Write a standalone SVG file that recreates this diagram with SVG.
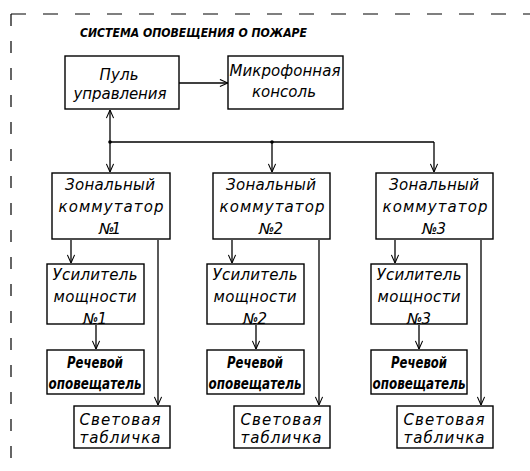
<svg xmlns="http://www.w3.org/2000/svg" width="530" height="471" viewBox="0 0 530 471">
<style>
.b{fill:#fff;stroke:#000;stroke-width:1.4}
.t{font-family:"DejaVu Sans","Liberation Sans",sans-serif;font-style:italic;font-size:15px;fill:#000;text-anchor:middle}
.r{font-family:"DejaVu Sans","Liberation Sans",sans-serif;font-style:italic;font-weight:bold;font-size:15px;fill:#000;text-anchor:middle}
.c{fill:none;stroke:#000;stroke-width:1.3}
.d{fill:none;stroke:#000;stroke-width:1.2}
</style>
<defs>
<marker id="a" viewBox="0 0 10 10" refX="10" refY="5" markerWidth="9" markerHeight="9" markerUnits="userSpaceOnUse" orient="auto">
<path d="M1,1 L10,5 L1,9" fill="none" stroke="#000" stroke-width="1.2"/>
</marker>
</defs>
<rect width="530" height="471" fill="#fff"/>
<g id="frame">
<line class="d" x1="11" y1="14" x2="530" y2="14" stroke-dasharray="15 17"/>
<line class="d" x1="11" y1="14" x2="11" y2="471" stroke-dasharray="12 15"/>
</g>
<g id="title">
<text x="80" y="37" font-family="DejaVu Sans,Liberation Sans,sans-serif" font-style="italic" font-weight="bold" font-size="12" textLength="227" lengthAdjust="spacingAndGlyphs">СИСТЕМА ОПОВЕЩЕНИЯ О ПОЖАРЕ</text>
</g>
<g id="connectors">
<line class="c" x1="179" y1="83" x2="228" y2="83" marker-end="url(#a)"/>
<line class="c" x1="110" y1="142" x2="110" y2="110" marker-end="url(#a)"/>
<line class="c" x1="110" y1="142" x2="434" y2="142"/>
<circle cx="110" cy="142" r="1.8"/>
<circle cx="272" cy="142" r="1.8"/>
<line class="c" x1="110" y1="142" x2="110" y2="172" marker-end="url(#a)"/>
<line class="c" x1="272" y1="142" x2="272" y2="172" marker-end="url(#a)"/>
<line class="c" x1="434" y1="142" x2="434" y2="172" marker-end="url(#a)"/>
<line class="c" x1="71" y1="240" x2="71" y2="263" marker-end="url(#a)"/>
<line class="c" x1="232" y1="240" x2="232" y2="263" marker-end="url(#a)"/>
<line class="c" x1="395" y1="240" x2="395" y2="263" marker-end="url(#a)"/>
<line class="c" x1="158" y1="240" x2="158" y2="405" marker-end="url(#a)"/>
<line class="c" x1="319" y1="240" x2="319" y2="405" marker-end="url(#a)"/>
<line class="c" x1="481" y1="240" x2="481" y2="405" marker-end="url(#a)"/>
<line class="c" x1="96" y1="325" x2="96" y2="349" marker-end="url(#a)"/>
<line class="c" x1="256" y1="325" x2="256" y2="349" marker-end="url(#a)"/>
<line class="c" x1="419" y1="325" x2="419" y2="349" marker-end="url(#a)"/>
</g>
<g id="pult">
<rect class="b" x="65" y="56" width="114" height="53"/>
<text class="t" x="119" y="80" textLength="39">Пуль</text>
<text class="t" x="120" y="99" textLength="93">управления</text>
</g>
<g id="mikrofon">
<rect class="b" x="228" y="56" width="115" height="53"/>
<text class="t" x="285" y="76" textLength="111">Микрофонная</text>
<text class="t" x="284" y="97" textLength="64">консоль</text>
</g>
<g id="zonal1">
<rect class="b" x="52" y="173" width="118" height="66"/>
<text class="t" x="110" y="190" textLength="90">Зональный</text>
<text class="t" x="111" y="212" textLength="105">коммутатор</text>
<text class="t" x="110" y="234" textLength="22">№1</text>
</g>
<g id="zonal2">
<rect class="b" x="213" y="173" width="117" height="66"/>
<text class="t" x="271" y="190" textLength="90">Зональный</text>
<text class="t" x="272" y="212" textLength="105">коммутатор</text>
<text class="t" x="271" y="234" textLength="24">№2</text>
</g>
<g id="zonal3">
<rect class="b" x="376" y="173" width="117" height="66"/>
<text class="t" x="434" y="190" textLength="90">Зональный</text>
<text class="t" x="435" y="212" textLength="105">коммутатор</text>
<text class="t" x="434" y="234" textLength="24">№3</text>
</g>
<g id="amp1">
<rect class="b" x="47" y="264" width="97" height="60"/>
<text class="t" x="95" y="280" textLength="85">Усилитель</text>
<text class="t" x="95" y="302" textLength="83">мощности</text>
<text class="t" x="95" y="324" textLength="24">№1</text>
</g>
<g id="amp2">
<rect class="b" x="207" y="264" width="97" height="60"/>
<text class="t" x="255" y="280" textLength="85">Усилитель</text>
<text class="t" x="255" y="302" textLength="83">мощности</text>
<text class="t" x="255" y="324" textLength="24">№2</text>
</g>
<g id="amp3">
<rect class="b" x="371" y="264" width="96" height="60"/>
<text class="t" x="419" y="280" textLength="85">Усилитель</text>
<text class="t" x="419" y="302" textLength="83">мощности</text>
<text class="t" x="419" y="324" textLength="24">№3</text>
</g>
<g id="speech1">
<rect class="b" x="47" y="350" width="97" height="44"/>
<text class="r" x="95" y="368" textLength="56" lengthAdjust="spacingAndGlyphs">Речевой</text>
<text class="r" x="95" y="389" textLength="93" lengthAdjust="spacingAndGlyphs">оповещатель</text>
</g>
<g id="speech2">
<rect class="b" x="207" y="350" width="97" height="44"/>
<text class="r" x="255" y="368" textLength="56" lengthAdjust="spacingAndGlyphs">Речевой</text>
<text class="r" x="255" y="389" textLength="93" lengthAdjust="spacingAndGlyphs">оповещатель</text>
</g>
<g id="speech3">
<rect class="b" x="371" y="350" width="96" height="44"/>
<text class="r" x="419" y="368" textLength="56" lengthAdjust="spacingAndGlyphs">Речевой</text>
<text class="r" x="419" y="389" textLength="93" lengthAdjust="spacingAndGlyphs">оповещатель</text>
</g>
<g id="light1">
<rect class="b" x="74" y="406" width="96" height="42"/>
<text class="t" x="120" y="425" textLength="81">Световая</text>
<text class="t" x="120" y="443" textLength="81">табличка</text>
</g>
<g id="light2">
<rect class="b" x="234" y="406" width="96" height="42"/>
<text class="t" x="281" y="425" textLength="81">Световая</text>
<text class="t" x="281" y="443" textLength="81">табличка</text>
</g>
<g id="light3">
<rect class="b" x="397" y="406" width="96" height="42"/>
<text class="t" x="444" y="425" textLength="81">Световая</text>
<text class="t" x="444" y="443" textLength="81">табличка</text>
</g>
</svg>
